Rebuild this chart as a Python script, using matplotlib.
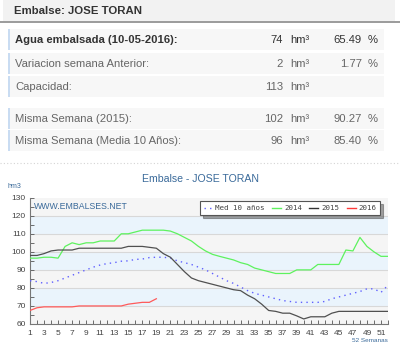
import matplotlib
matplotlib.use("Agg")
import matplotlib.pyplot as plt
from matplotlib.patches import Rectangle
from matplotlib.lines import Line2D
import numpy as np

plt.rcParams['font.family'] = ['Liberation Sans', 'DejaVu Sans']

# ---------------- data ----------------
station = "JOSE TORAN"
row_labels = ["Agua embalsada (10-05-2016):", "Variacion semana Anterior:", "Capacidad:",
              "Misma Semana (2015):", "Misma Semana (Media 10 Años):"]
row_values = ["74", "2", "113", "102", "96"]
row_pcts = ["65.49", "1.77", "", "90.27", "85.40"]

weeks = list(range(1, 53))
med10 = [84, 83.5, 82.5, 83, 84, 85.5, 87, 88.5, 90, 91.5, 92.7, 93.5, 94, 94.8, 95, 95.8, 96,
         96.8, 97, 97, 96.5, 95, 94, 93, 91.5, 90, 88, 86, 84, 82.5, 80.5, 78.5, 77, 76, 75, 74,
         73, 72.5, 72, 72, 72, 72, 72.5, 74, 75, 76, 77, 78, 79.5, 79.5, 77.5, 81.5]
y2014 = [96.5, 96.5, 97, 97, 96.5, 103, 105, 104, 105, 105, 106, 106, 106, 110, 110, 111, 112,
         112, 112, 112, 111.5, 110, 108, 106, 103, 100.5, 98.6, 97.5, 96.5, 95.5, 94, 93, 91, 90,
         89, 88, 88, 88, 90, 90, 90, 93, 93, 93, 93, 101, 100.5, 108, 103, 100, 97.5, 97.5]
y2015 = [98, 98, 99, 100.5, 101, 101, 101, 102, 102, 102, 102, 102, 102, 102, 103, 103, 103,
         102.5, 102, 99, 97, 93, 89, 85.5, 84, 83, 82, 81, 80, 79, 78.5, 76, 74, 71, 67.5, 67,
         66, 66, 64.5, 62.8, 64, 64, 64, 66, 67, 67, 67, 67, 67, 67, 67, 67]
weeks2016 = list(range(1, 20))
y2016 = [67.5, 69, 69.5, 69.5, 69.5, 69.5, 69.5, 70, 70, 70, 70, 70, 70, 70, 71, 71.5, 72, 72, 74]
yticks = [60, 70, 80, 90, 100, 110, 120, 130]
xticks = list(range(1, 52, 2))

W, H = 400, 352
fig = plt.figure(figsize=(W / 100, H / 100), dpi=100)
fig.patch.set_facecolor('white')

# overlay axes in pixel coordinates (top-down)
ov = fig.add_axes([0, 0, 1, 1], zorder=0)
ov.set_xlim(0, W)
ov.set_ylim(H, 0)
ov.axis('off')

# header
ov.add_patch(Rectangle((3, 0), 392, 21, facecolor='#f2f2f2', edgecolor='none'))
ov.plot([0, 400], [22, 22], color='#8a8a8a', lw=1.2)
ov.text(14, 11.5, "Embalse: " + station, fontsize=8.2, fontweight='bold', color='#333333',
        va='center', ha='left')

row_tops = [29, 53, 76, 108, 130]
row_h = 21
fs = 8.1
for i, (lab, val, pct) in enumerate(zip(row_labels, row_values, row_pcts)):
    t = row_tops[i]
    ov.add_patch(Rectangle((8, t), 376, row_h, facecolor='#f7f7f7', edgecolor='none'))
    ov.add_patch(Rectangle((8, t), 2.2, row_h, facecolor='#c9dcf2', edgecolor='none'))
    yc = t + row_h / 2 + 0.5
    bold = (i == 0)
    col = '#333333' if bold else '#666666'
    fw = 'bold' if bold else 'normal'
    ov.text(15, yc, lab, fontsize=fs, color=col, fontweight=fw, va='center', ha='left')
    ov.text(283, yc, val, fontsize=fs, color=col, va='center', ha='right')
    ov.text(290, yc, "hm³", fontsize=fs, color=col, va='center', ha='left')
    if pct:
        ov.text(362, yc, pct, fontsize=fs, color=col, va='center', ha='right')
        ov.text(368, yc, "%", fontsize=fs, color=col, va='center', ha='left')

# dotted separator
ov.plot([0, 400], [163, 163], color='#d4d4d4', lw=0.8, ls=(0, (1, 2)))

# chart title and labels
ov.text(200, 179, "Embalse - " + station, fontsize=7.6, color='#3a6a9a', ha='center', va='center')
ov.text(8, 186, "hm3", fontsize=5, color='#3a6a9a', ha='left', va='center')
ov.text(388, 341, "52 Semanas", fontsize=4.6, color='#3a6a9a', ha='right', va='center')

# ---------------- chart ----------------
ax = fig.add_axes([30 / W, (H - 324) / H, 358 / W, (324 - 197.7) / H], zorder=2)
ax.set_xlim(1, 52)
ax.set_ylim(60, 130)
for lo in range(60, 130, 10):
    c = '#eaf4fc' if lo in (70, 90, 110) else '#f5f5f5'
    ax.axhspan(lo, lo + 10, facecolor=c, edgecolor='none', zorder=0)
for yv in yticks[1:-1]:
    ax.axhline(yv, color='#d8d8d8', lw=0.8, zorder=1)

ax.plot(weeks, med10, color='#6060ff', lw=1.0, ls=(0, (1, 3)), zorder=3)
ax.plot(weeks, y2014, color='#5ef25e', lw=0.9, zorder=3)
ax.plot(weeks, y2015, color='#505050', lw=0.9, zorder=3)
ax.plot(weeks2016, y2016, color='#ff5a5a', lw=0.9, zorder=3)

ax.set_yticks(yticks)
ax.set_yticks(np.arange(60, 131, 5), minor=True)
ax.set_xticks(xticks)
ax.set_xticks(weeks, minor=True)
ax.tick_params(axis='both', which='both', direction='in', colors='#555555', labelcolor='#444444',
               labelsize=6.0, length=3, width=0.6)
ax.tick_params(axis='x', pad=4)
ax.tick_params(axis='y', pad=3)
for s in ['top', 'right']:
    ax.spines[s].set_visible(False)
for s in ['left', 'bottom']:
    ax.spines[s].set_color('#777777')
    ax.spines[s].set_linewidth(0.8)

ax.text(0.012, 0.965, "WWW.EMBALSES.NET", transform=ax.transAxes, fontsize=6.3,
        color='#3a6a9a', ha='left', va='top', zorder=4)

handles = [Line2D([], [], color='#6060ff', lw=1.0, ls=(0, (1, 3))),
           Line2D([], [], color='#5ef25e', lw=1.0),
           Line2D([], [], color='#333333', lw=1.0),
           Line2D([], [], color='#ff3a3a', lw=1.0)]
leg = ax.legend(handles, ["Med 10 años", "2014", "2015", "2016"], ncol=4, loc='upper right',
                bbox_to_anchor=(0.988, 1.0), prop={'family': 'DejaVu Sans Mono', 'size': 5.4},
                handlelength=1.2, handletextpad=0.35, columnspacing=1.0, borderpad=0.5,
                frameon=True, fancybox=False, shadow=True, labelcolor='#444444')
leg.get_frame().set_edgecolor('#555555')
leg.get_frame().set_linewidth(0.8)
leg.set_zorder(5)

fig.savefig("out.png", dpi=100)
